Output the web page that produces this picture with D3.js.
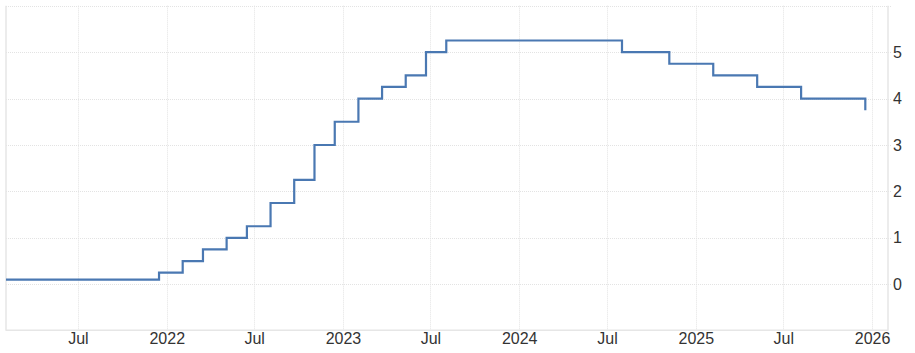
<!DOCTYPE html>
<html>
<head>
<meta charset="utf-8">
<script src="https://cdn.jsdelivr.net/npm/d3@7"></script>
<style>
  html, body { margin: 0; padding: 0; background: #fff; }
  svg { display: block; font-family: "Liberation Sans", Arial, sans-serif; }
</style>
</head>
<body>
<svg id="chart" width="915" height="353"></svg>
<script>
// Bank rate step dates and values
const dates = ["2021-02-02","2021-12-16","2022-02-03","2022-03-17","2022-05-05","2022-06-16",
  "2022-08-04","2022-09-22","2022-11-03","2022-12-15","2023-02-02","2023-03-23","2023-05-11",
  "2023-06-22","2023-08-03","2024-08-01","2024-11-07","2025-02-06","2025-05-08","2025-08-07","2025-12-18"];
const rates = [0.1,0.25,0.5,0.75,1.0,1.25,1.75,2.25,3.0,3.5,4.0,4.25,4.5,5.0,5.25,5.0,4.75,4.5,4.25,4.0,3.75];
const xTickDates = ["2021-07-01","2022-01-01","2022-07-01","2023-01-01","2023-07-01","2024-01-01",
  "2024-07-01","2025-01-01","2025-07-01","2026-01-01"];
const xTickLabels = ["Jul","2022","Jul","2023","Jul","2024","Jul","2025","Jul","2026"];
const yTicks = [0,1,2,3,4,5];
const yGrid = [0,1,2,3,4,5,6];
const xDomain = ["2021-02-02","2026-02-03"];
const yDomain = [-1, 6];

(function () {
const parse = d3.utcParse("%Y-%m-%d");
const data = dates.map((d, i) => ({ date: parse(d), value: rates[i] }));

const svg = d3.select("#chart");
const pLeft = 6, pRight = 888, pTop = 5.7, pBottom = 330.7;

const x = d3.scaleUtc().domain(xDomain.map(parse)).range([pLeft, pRight]);
const y = d3.scaleLinear().domain(yDomain).range([pBottom, pTop]);

// vertical grid
svg.append("g").selectAll("line").data(xTickDates.map(parse)).join("line")
  .attr("x1", d => Math.round(x(d)) + 0.5).attr("x2", d => Math.round(x(d)) + 0.5)
  .attr("y1", pTop).attr("y2", pBottom)
  .attr("stroke", "#e3e3e3").attr("stroke-width", 1).attr("stroke-dasharray", "1,1");

// horizontal grid
svg.append("g").selectAll("line").data(yGrid).join("line")
  .attr("x1", pLeft).attr("x2", pRight + 3)
  .attr("y1", d => Math.round(y(d)) + 0.5).attr("y2", d => Math.round(y(d)) + 0.5)
  .attr("stroke", "#e3e3e3").attr("stroke-width", 1).attr("stroke-dasharray", "1,1");

// frame lines
svg.append("line").attr("x1", pLeft).attr("x2", pLeft).attr("y1", pTop).attr("y2", pBottom)
  .attr("stroke", "#e6e6e6").attr("stroke-width", 1.5);
svg.append("line").attr("x1", pRight).attr("x2", pRight).attr("y1", pTop).attr("y2", pBottom)
  .attr("stroke", "#e6e6e6").attr("stroke-width", 1.5);
svg.append("line").attr("x1", pLeft).attr("x2", pRight).attr("y1", pBottom - 0.5).attr("y2", pBottom - 0.5)
  .attr("stroke", "#e6e6e6").attr("stroke-width", 1.5);

// x axis labels
const xAxis = d3.axisBottom(x)
  .tickValues(xTickDates.map(parse))
  .tickFormat((d, i) => xTickLabels[i])
  .tickSize(0).tickPadding(0);
const gx = svg.append("g").attr("transform", `translate(0,${pBottom})`).call(xAxis);
gx.select(".domain").remove();
gx.selectAll("text").attr("font-size", 16).attr("fill", "#333")
  .attr("font-family", "'Liberation Sans', Arial, sans-serif")
  .attr("dy", "0").attr("y", 13.5);

// y axis labels
const yAxis = d3.axisRight(y).tickValues(yTicks).tickFormat(d3.format("d")).tickSize(0).tickPadding(0);
const gy = svg.append("g").attr("transform", `translate(${pRight + 5},0)`).call(yAxis);
gy.select(".domain").remove();
gy.selectAll("text").attr("font-size", 16).attr("fill", "#333")
  .attr("font-family", "'Liberation Sans', Arial, sans-serif");

// step line
const line = d3.line().x(d => x(d.date)).y(d => y(d.value)).curve(d3.curveStepAfter);
svg.append("path").datum(data)
  .attr("d", line)
  .attr("fill", "none")
  .attr("stroke", "#4a78b2")
  .attr("stroke-width", 2.2)
  .attr("stroke-linejoin", "miter");
})();
</script>
</body>
</html>
